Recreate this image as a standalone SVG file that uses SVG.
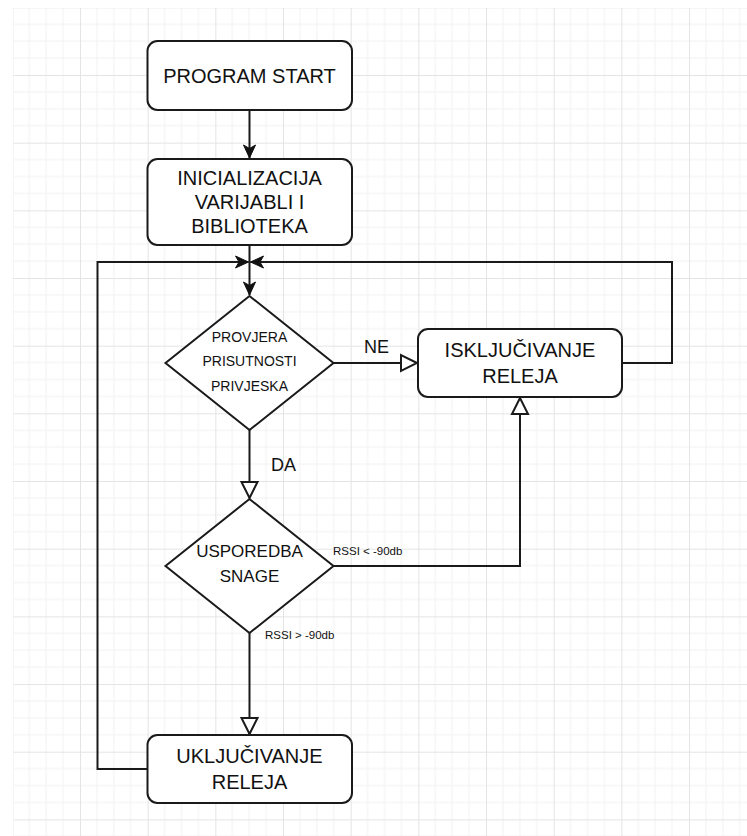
<svg xmlns="http://www.w3.org/2000/svg" width="747" height="836" viewBox="0 0 747 836">
<style>
.box{fill:#fff;stroke:#1a1a1a;stroke-width:2}
.edge{fill:none;stroke:#1a1a1a;stroke-width:2}
.t{font-family:"Liberation Sans",Arial,sans-serif;fill:#111;text-anchor:middle}
.t20{font-size:20px}
.t17{font-size:17px}
.t14{font-size:14px}
.lbl{font-family:"Liberation Sans",Arial,sans-serif;fill:#111}
</style>
<defs>
<pattern id="grid" patternUnits="userSpaceOnUse" x="80" y="75" width="67.67" height="67.67">
<path d="M16.92,0V67.67M33.84,0V67.67M50.75,0V67.67M0,16.92H67.67M0,33.84H67.67M0,50.75H67.67" stroke="#f2f2f2" stroke-width="1" fill="none"/>
<path d="M0.5,0V67.67M0,0.5H67.67" stroke="#e4e4e4" stroke-width="1" fill="none"/>
</pattern>
<marker id="classic" markerUnits="userSpaceOnUse" viewBox="-15 -8 16 16" refX="0" refY="0" markerWidth="16" markerHeight="16" orient="auto">
<path d="M0,0 L-13,-6 L-9.5,0 L-13,6 Z" fill="#111" stroke="#111" stroke-width="1"/>
</marker>
<marker id="block" markerUnits="userSpaceOnUse" viewBox="-19 -11 21 22" refX="0" refY="0" markerWidth="21" markerHeight="22" orient="auto">
<path d="M0,0 L-16,-8 L-16,8 Z" fill="#fff" stroke="#1a1a1a" stroke-width="2"/>
</marker>
</defs>
<rect x="0" y="0" width="747" height="836" fill="#fff"/>
<rect x="13" y="8" width="734" height="828" fill="url(#grid)"/>

<g id="connectors">
<path class="edge" d="M249.5,110V158" marker-end="url(#classic)"/>
<path class="edge" d="M249.5,245V295" marker-end="url(#classic)"/>
<path class="edge" d="M333.5,363H417" marker-end="url(#block)"/>
<path class="edge" d="M622,363H672V262H250.5" marker-end="url(#classic)"/>
<path class="edge" d="M249.5,430V498" marker-end="url(#block)"/>
<path class="edge" d="M333.5,566H520V398" marker-end="url(#block)"/>
<path class="edge" d="M249.5,633V734" marker-end="url(#block)"/>
<path class="edge" d="M147,769H97.5V262H248.5" marker-end="url(#classic)"/>
<text class="lbl" x="364" y="353" font-size="18">NE</text>
<text class="lbl" x="271" y="471" font-size="18">DA</text>
<text class="lbl" x="333" y="555" font-size="11.5">RSSI &lt; -90db</text>
<text class="lbl" x="265" y="639" font-size="11.5">RSSI &gt; -90db</text>
</g>

<g id="start">
<rect class="box" x="147.5" y="41" width="204.5" height="69" rx="10"/>
<text class="t t20" x="249.5" y="82.5">PROGRAM START</text>
</g>

<g id="init">
<rect class="box" x="147.5" y="159" width="204.5" height="86" rx="10"/>
<text class="t t20" x="249.5" y="185">INICIALIZACIJA</text>
<text class="t t20" x="249.5" y="209">VARIJABLI I</text>
<text class="t t20" x="249.5" y="233">BIBLIOTEKA</text>
</g>

<g id="check">
<path class="box" d="M249.5,296L333.5,363L249.5,430L165.5,363Z"/>
<text class="t t14" x="249.5" y="342">PROVJERA</text>
<text class="t t14" x="249.5" y="366">PRISUTNOSTI</text>
<text class="t t14" x="249.5" y="390.5">PRIVJESKA</text>
</g>

<g id="off">
<rect class="box" x="418" y="329" width="204" height="68" rx="10"/>
<text class="t t20" x="520" y="357">ISKLJUČIVANJE</text>
<text class="t t20" x="520" y="383">RELEJA</text>
</g>

<g id="compare">
<path class="box" d="M249.5,499L333.5,566L249.5,633L165.5,566Z"/>
<text class="t t17" x="249.5" y="556.5">USPOREDBA</text>
<text class="t t17" x="249.5" y="582">SNAGE</text>
</g>

<g id="on">
<rect class="box" x="147.5" y="735" width="204.5" height="68" rx="10"/>
<text class="t t20" x="249.5" y="763">UKLJUČIVANJE</text>
<text class="t t20" x="249.5" y="789">RELEJA</text>
</g>
</svg>
